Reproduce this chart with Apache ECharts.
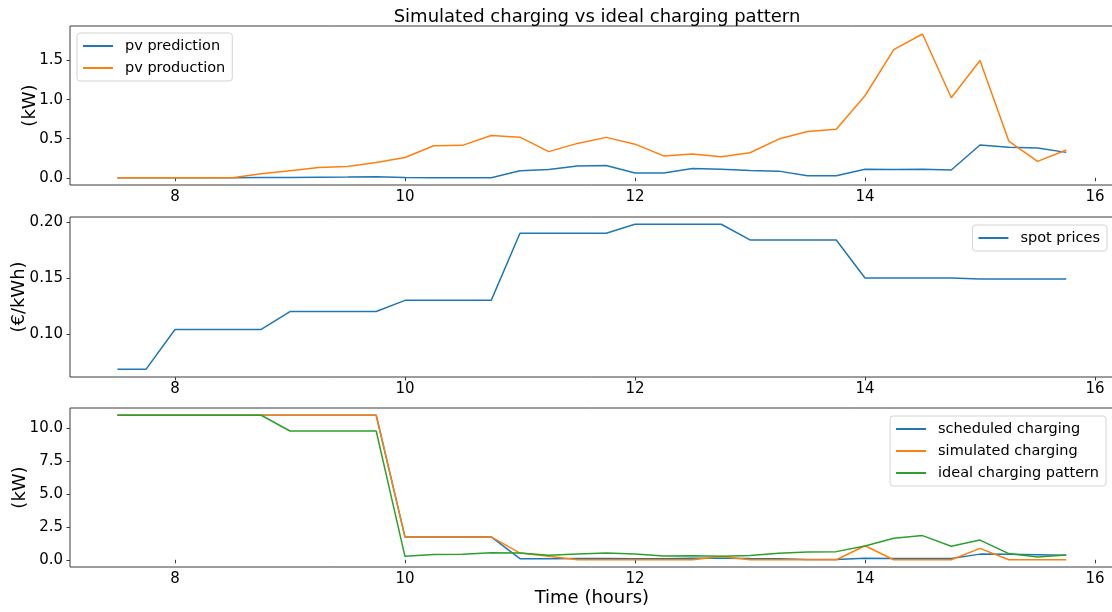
<!DOCTYPE html>
<html>
<head>
<meta charset="utf-8">
<script src="https://cdn.jsdelivr.net/npm/echarts@6/dist/echarts.min.js"></script>
<style>
  html, body { margin: 0; padding: 0; background: #fff; }
  #chart { width: 1112px; height: 612px; }
</style>
</head>
<body>
<div id="chart"></div>
<script>
// Time of day (hours), one sample every quarter hour
const times = [7.5, 7.75, 8, 8.25, 8.5, 8.75, 9, 9.25, 9.5, 9.75,
  10, 10.25, 10.5, 10.75, 11, 11.25, 11.5, 11.75, 12, 12.25,
  12.5, 12.75, 13, 13.25, 13.5, 13.75, 14, 14.25, 14.5, 14.75,
  15, 15.25, 15.5, 15.75];

// PV power (kW)
const pvPrediction = [0, 0, 0, 0, 0, 0.003, 0.005, 0.007, 0.009, 0.013,
  0.002, 0.001, 0.001, 0.001, 0.09, 0.105, 0.15, 0.157, 0.06, 0.06,
  0.12, 0.11, 0.093, 0.085, 0.025, 0.025, 0.11, 0.106, 0.11, 0.10,
  0.42, 0.39, 0.38, 0.325];
const pvProduction = [0, 0, 0, 0, 0, 0.05, 0.09, 0.13, 0.145, 0.195,
  0.26, 0.41, 0.415, 0.54, 0.52, 0.335, 0.44, 0.517, 0.43, 0.28,
  0.305, 0.27, 0.32, 0.495, 0.593, 0.62, 1.05, 1.64, 1.84, 1.025,
  1.5, 0.47, 0.21, 0.356];

// Spot market price (€/kWh)
const spotPrices = [0.0685, 0.0685, 0.104, 0.104, 0.104, 0.104, 0.12, 0.12, 0.12, 0.12,
  0.13, 0.13, 0.13, 0.13, 0.19, 0.19, 0.19, 0.19, 0.198, 0.198,
  0.198, 0.198, 0.184, 0.184, 0.184, 0.184, 0.15, 0.15, 0.15, 0.15,
  0.149, 0.149, 0.149, 0.149];

// Charging power (kW)
const scheduledCharging = [11, 11, 11, 11, 11, 11, 11, 11, 11, 11,
  1.74, 1.74, 1.74, 1.74, 0.08, 0.08, 0.1, 0.1, 0.08, 0.08,
  0.12, 0.11, 0.09, 0.085, 0.03, 0.03, 0.11, 0.1, 0.1, 0.1,
  0.43, 0.42, 0.39, 0.34];
const simulatedCharging = [11, 11, 11, 11, 11, 11, 11, 11, 11, 11,
  1.74, 1.74, 1.74, 1.74, 0.51, 0.26, 0, 0, 0, 0,
  0, 0.25, 0, 0, 0, 0, 1.07, 0, 0, 0,
  0.87, 0, 0, 0];
const idealCharging = [11, 11, 11, 11, 11, 11, 9.8, 9.8, 9.8, 9.8,
  0.26, 0.41, 0.415, 0.54, 0.52, 0.335, 0.44, 0.517, 0.43, 0.28,
  0.305, 0.27, 0.32, 0.495, 0.593, 0.62, 1.05, 1.64, 1.84, 1.025,
  1.5, 0.47, 0.21, 0.356];

// Tick labels
const xTicks = [8, 10, 12, 14, 16];
const yTicksPv = [0, 0.5, 1.0, 1.5];
const yTicksPrice = [0.10, 0.15, 0.20];
const yTicksCharge = [0, 2.5, 5.0, 7.5, 10.0];

const FONT = 'DejaVu Sans';
const SPINE = '#3a3a3a';
const C_BLUE = '#1f77b4', C_ORANGE = '#ff7f0e', C_GREEN = '#2ca02c';

const gridBase = { left: 70, width: 1043.7, show: true, borderColor: SPINE, borderWidth: 1,
  backgroundColor: 'transparent', containLabel: false, outerBoundsMode: 'none' };

function xAxisFor(i, extra) {
  return Object.assign({
    type: 'value', gridIndex: i, min: 7.0875, max: 16.1625,
    splitLine: { show: false },
    axisLine: { show: false },
    axisTick: { show: true, length: 3.5, customValues: xTicks, lineStyle: { color: SPINE, width: 1 } },
    axisLabel: { customValues: xTicks, fontFamily: FONT, fontSize: 15, color: '#000', margin: 5 }
  }, extra || {});
}

function yAxisFor(i, min, max, ticks, decimals, name, gap) {
  return {
    type: 'value', gridIndex: i, min: min, max: max,
    splitLine: { show: false },
    axisLine: { show: false },
    axisTick: { show: true, length: 3.5, customValues: ticks, lineStyle: { color: SPINE, width: 1 } },
    axisLabel: { customValues: ticks, fontFamily: FONT, fontSize: 15, color: '#000', margin: 7,
      formatter: v => v.toFixed(decimals) },
    name: name, nameLocation: 'middle', nameGap: gap, nameMoveOverlap: false,
    nameTextStyle: { fontFamily: FONT, fontSize: 18, color: '#000' }
  };
}

function lineSeries(name, values, color, gi) {
  return {
    name: name, type: 'line', xAxisIndex: gi, yAxisIndex: gi,
    data: times.map((t, k) => [t, values[k]]),
    showSymbol: false, symbol: 'none', animation: false,
    lineStyle: { color: color, width: 1.5 }, itemStyle: { color: color }
  };
}

const legendBase = {
  orient: 'vertical', icon: 'rect', itemWidth: 30, itemHeight: 2, itemGap: 6,
  padding: [5, 7, 5, 6], borderColor: '#d4d4d4', borderWidth: 1, borderRadius: 3,
  backgroundColor: 'rgba(255,255,255,0.8)',
  textStyle: { fontFamily: FONT, fontSize: 14.5, color: '#000', lineHeight: 16, padding: [0, 0, 0, 7] }
};

const chart = echarts.init(document.getElementById('chart'));
chart.setOption({
  animation: false,
  title: {
    text: 'Simulated charging vs ideal charging pattern',
    left: 592, top: 3, textAlign: 'center',
    textStyle: { fontFamily: FONT, fontSize: 18, fontWeight: 'normal', color: '#000' }
  },
  grid: [
    Object.assign({ top: 26, height: 159 }, gridBase),
    Object.assign({ top: 217, height: 160 }, gridBase),
    Object.assign({ top: 408, height: 159 }, gridBase)
  ],
  xAxis: [
    xAxisFor(0),
    xAxisFor(1),
    xAxisFor(2, { name: 'Time (hours)', nameLocation: 'middle', nameGap: 22, nameMoveOverlap: false,
      nameTextStyle: { fontFamily: FONT, fontSize: 18, color: '#000' } })
  ],
  yAxis: [
    yAxisFor(0, -0.0925, 1.9425, yTicksPv, 1, '(kW)', 31),
    yAxisFor(1, 0.0615, 0.2045, yTicksPrice, 2, '(€/kWh)', 42),
    yAxisFor(2, -0.55, 11.55, yTicksCharge, 1, '(kW)', 41)
  ],
  legend: [
    Object.assign({}, legendBase, { data: ['pv prediction', 'pv production'], left: 77, top: 33 }),
    Object.assign({}, legendBase, { data: ['spot prices'], right: 5, top: 225 }),
    Object.assign({}, legendBase, { data: ['scheduled charging', 'simulated charging', 'ideal charging pattern'], right: 6, top: 416 })
  ],
  series: [
    lineSeries('pv prediction', pvPrediction, C_BLUE, 0),
    lineSeries('pv production', pvProduction, C_ORANGE, 0),
    lineSeries('spot prices', spotPrices, C_BLUE, 1),
    lineSeries('scheduled charging', scheduledCharging, C_BLUE, 2),
    lineSeries('simulated charging', simulatedCharging, C_ORANGE, 2),
    lineSeries('ideal charging pattern', idealCharging, C_GREEN, 2)
  ]
});
</script>
</body>
</html>
